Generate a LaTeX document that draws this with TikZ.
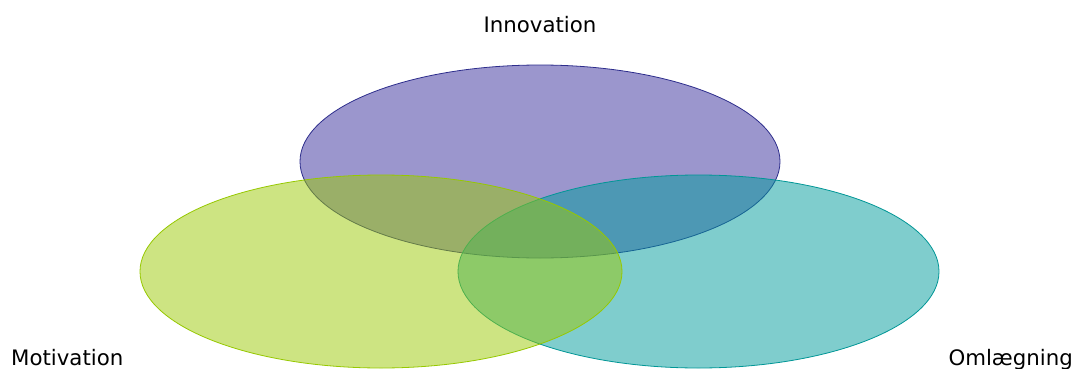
\documentclass[tikz,border=0pt]{standalone}
\usepackage{fontspec}
\setmainfont{DejaVu Sans}
\definecolor{pfill}{RGB}{55,45,155}
\definecolor{pline}{RGB}{45,45,140}
\definecolor{gfill}{RGB}{155,201,5}
\definecolor{gline}{RGB}{150,200,0}
\definecolor{tfill}{RGB}{0,155,155}
\definecolor{tline}{RGB}{0,150,150}
\begin{document}
\begin{tikzpicture}[x=1pt,y=-1pt,
  blob/.style={line width=0.8pt, fill opacity=0.5},
  lbl/.style={font=\fontsize{21.3}{25}\selectfont, text=black, inner sep=0pt}]
\useasboundingbox (0,0) rectangle (1075,369);
\path[blob, fill=pfill, draw=pline] (540,161.5) ellipse [x radius=240, y radius=96.5];
\path[blob, fill=tfill, draw=tline] (698.5,271.5) ellipse [x radius=240.5, y radius=96.5];
\path[blob, fill=gfill, draw=gline] (381,271.5) ellipse [x radius=241, y radius=96.5];
\node[lbl, anchor=base] (inn) at (540,33) {Innovation};
\node[lbl, anchor=base west] (mot) at (11,365) {Motivation};
\node[lbl, anchor=base east] (oml) at (1073,365) {Omlægning};
\end{tikzpicture}
\end{document}
